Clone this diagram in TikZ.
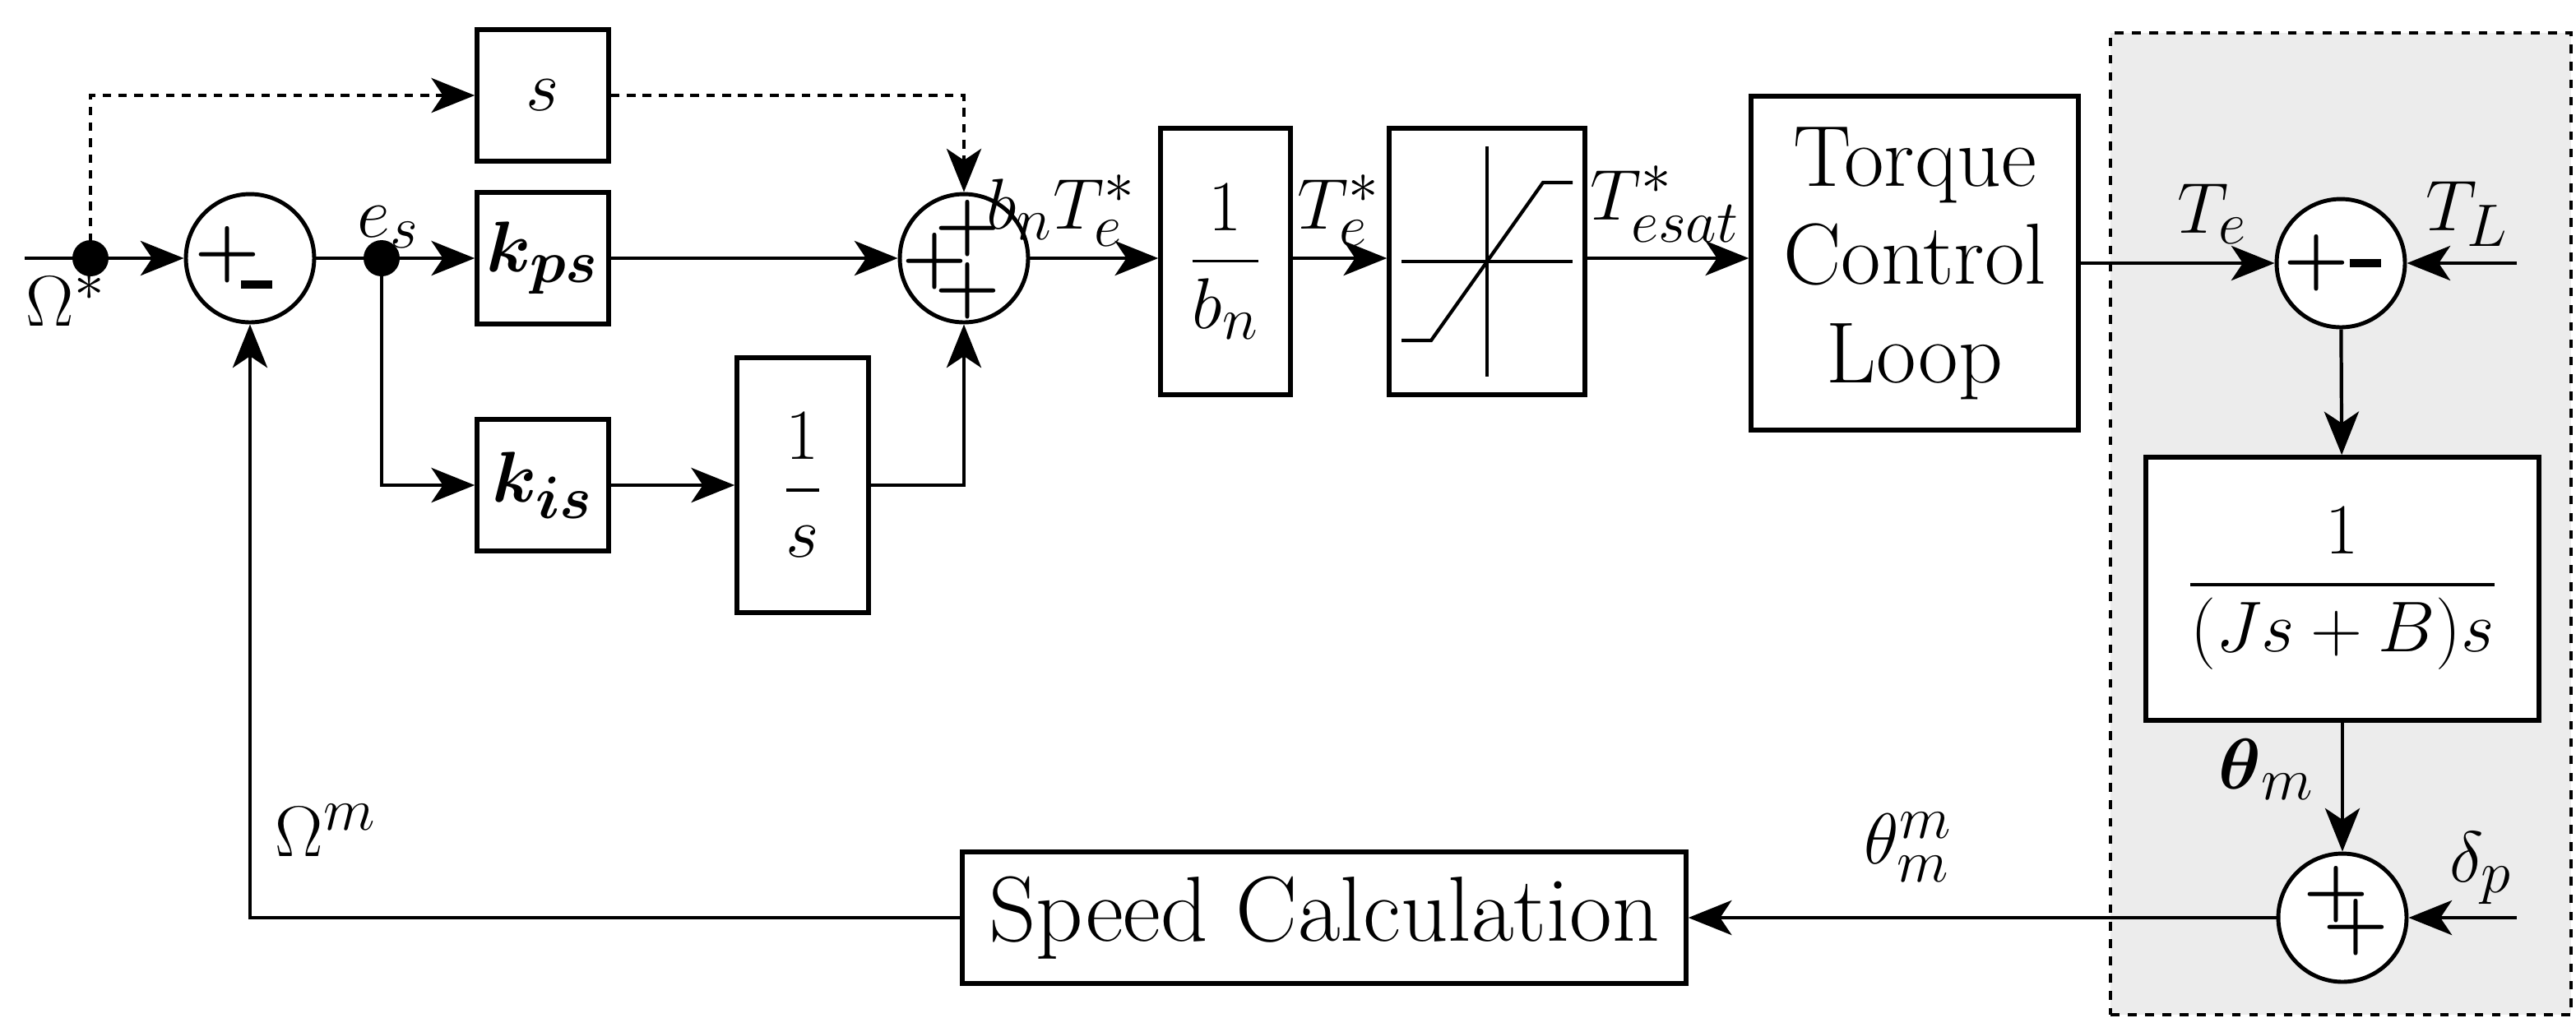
\documentclass[tikz,border=0pt]{standalone}
\usepackage{amsmath}
\usetikzlibrary{arrows.meta}
\begin{document}
\begin{tikzpicture}[x=0.02cm,y=-0.02cm,
  line width=1.2pt,
  >={Stealth[length=15pt,width=12pt,inset=4pt]},
  blk/.style={draw,line width=1.6pt,minimum width=1.6cm,minimum height=1.6cm,inner sep=0pt,fill=white},
  sum/.style={draw,circle,line width=1.4pt,minimum size=1.56cm,inner sep=0pt,fill=white},
  sg/.style={font=\fontsize{26}{26}\selectfont\bfseries,inner sep=0pt},
  lab/.style={font=\fontsize{30}{32}\selectfont,inner sep=0pt},
  dot/.style={circle,fill,inner sep=0pt,minimum size=0.44cm},
  dsh/.style={dash pattern=on 3pt off 2.5pt}]
\useasboundingbox (0,0) rectangle (1566,627);
\node[draw,dashed,line width=1.1pt,fill=gray!15,minimum width=5.6cm,minimum height=11.94cm] (grey) at (1423,318.5) {};
% nodes
\coordinate (in) at (15,157);
\node[dot] (d1) at (55,157) {};
\node[sum] (s1) at (152,157) {};
\node[dot] (d2) at (232,157) {};
\node[blk] (bs) at (330,58) {\fontsize{30}{32}\selectfont$s$};
\node[blk] (kps) at (330,157) {\fontsize{30}{32}\selectfont$\boldsymbol{k_{ps}}$};
\node[blk] (kis) at (330,295) {\fontsize{30}{32}\selectfont$\boldsymbol{k_{is}}$};
\node[blk,minimum height=3.1cm] (int) at (488,295) {\fontsize{30}{32}\selectfont$\dfrac{1}{s}$};
\node[sum] (s2) at (586,157) {};
\node[blk,minimum width=1.58cm,minimum height=3.24cm] (bn) at (745,159) {\fontsize{30}{32}\selectfont$\dfrac{1}{b_n}$};
\node[blk,minimum width=2.38cm,minimum height=3.24cm] (sat) at (904,159) {};
\node[blk,minimum width=3.98cm,minimum height=4.06cm,align=center,font=\fontsize{30}{34}\selectfont] (tcl) at (1164,160) {Torque\\Control\\Loop};
\node[sum] (s3) at (1423,160) {};
\coordinate (tl) at (1530,160);
\node[blk,minimum width=4.78cm,minimum height=3.2cm] (plant) at (1424,358) {\fontsize{30}{32}\selectfont$\dfrac{1}{(Js+B)s}$};
\node[sum] (s4) at (1424,558) {};
\coordinate (dp) at (1530,558);
\node[blk,minimum width=8.8cm,minimum height=1.6cm,font=\fontsize{32}{34}\selectfont] (spd) at (805,558) {Speed Calculation};
% saturation symbol
\draw (sat.center) ++(0,-70) -- ++(0,140);
\draw (sat.center) ++(-52,0) -- ++(104,0);
\draw (sat.center) ++(-52,48) -- ++(18,0) -- ++(68,-96) -- ++(18,0);
% connectors
\draw[->] (in) -- (s1);
\draw[->] (s1) -- (kps);
\draw[->] (kps) -- (s2);
\draw[->] (d2.center) |- (kis);
\draw[->] (kis) -- (int);
\draw[->] (int) -| (s2);
\draw[->,dsh] (d1.center) |- (bs);
\draw[->,dsh] (bs) -| (s2);
\draw[->] (s2) -- (bn.west|-s2);
\draw[->] (bn.east|-s2) -- (sat.west|-s2);
\draw[->] (sat.east|-s2) -- (tcl.west|-s2);
\draw[->] (tcl.east|-s3) -- (s3);
\draw[->] (tl) -- (s3);
\draw[->] (s3) -- (plant);
\draw[->] (plant) -- (s4);
\draw[->] (dp) -- (s4);
\draw[->] (s4) -- (spd);
\draw[->] (spd) -| (s1);
% signs
\node[sg] at ([shift={(-14,-2)}]s1.center) {+};
\node[sg] at ([shift={(4,16)}]s1.center) {\rule{11pt}{2.6pt}};
\node[sg] at ([shift={(2,-18)}]s2.center) {+};
\node[sg] at ([shift={(-18,2)}]s2.center) {+};
\node[sg] at ([shift={(2,20)}]s2.center) {+};
\node[sg] at ([shift={(-15,0)}]s3.center) {+};
\node[sg] at ([shift={(15,0)}]s3.center) {\rule{11pt}{2.6pt}};
\node[sg] at ([shift={(-4,-14)}]s4.center) {+};
\node[sg] at ([shift={(8,6)}]s4.center) {+};
% labels
\node[lab] (l1) at (40,182) {$\Omega^{*}$};
\node[lab] (l2) at (236,138) {$e_{s}$};
\node[lab] (l3) at (645,128) {$b_{n}T_{e}^{*}$};
\node[lab] (l4) at (814,128) {$T_{e}^{*}$};
\node[lab] (l5) at (1012,124) {$T_{esat}^{*}$};
\node[lab] (l6) at (1345,130) {$T_{e}$};
\node[lab] (l7) at (1500,130) {$T_{L}$};
\node[lab] (l8) at (1378,468) {$\boldsymbol{\theta}_{m}$};
\node[lab] (l9) at (1508,528) {$\delta_{p}$};
\node[lab] (l10) at (1160,515) {$\theta_m^m$};
\node[lab] (l11) at (198,505) {$\Omega^m$};
\end{tikzpicture}
\end{document}
